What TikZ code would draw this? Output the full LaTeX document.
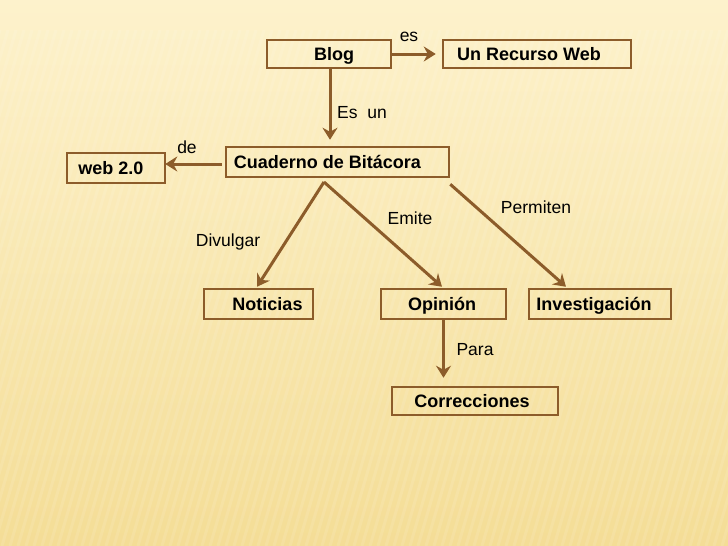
\documentclass[tikz,border=0pt]{standalone}
\usepackage{fontspec}
\setmainfont{Liberation Sans}
\usetikzlibrary{arrows.meta}
\definecolor{brownline}{RGB}{140,92,42}
\definecolor{bgtop}{RGB}{253,242,204}
\definecolor{bgbot}{RGB}{244,221,150}
\tikzset{
  box/.style={draw=brownline, line width=2.5pt, rectangle, inner sep=0pt,
    text height=12.9pt, text depth=0pt,
    font=\fontsize{18}{21}\selectfont\bfseries, text=black},
  lbl/.style={inner sep=0pt, font=\fontsize{17.5}{20}\selectfont, text=black},
  arr/.style={draw=brownline, line width=3pt,
    -{Stealth[length=12pt,width=15pt,inset=4pt]}},
  stripe/.style={draw=white, opacity=0.10, line width=3pt},
}
\begin{document}
\begin{tikzpicture}[x=1pt,y=-1pt]
\useasboundingbox (0,0) rectangle (728,546);
\fill[top color=bgtop, bottom color=bgbot] (0,0) rectangle (728,546);
\begin{scope}
\clip (0,30) rectangle (728,546);
\foreach \i in {0,8,...,900} {
  \draw[stripe] (\i-150,546) -- (\i,30);
}
\end{scope}

\node[box, minimum width=124pt, minimum height=28pt] (blog) at (329,54) {\hspace*{10pt}Blog};
\node[box, minimum width=188pt, minimum height=28pt] (rec) at (537,54) {Un Recurso Web\hspace*{16pt}};
\node[box, minimum width=223pt, minimum height=30pt] (cua) at (337.5,162) {Cuaderno de Bitácora\hspace*{20pt}};
\node[box, minimum width=98pt, minimum height=30pt] (web) at (116,168) {web 2.0\hspace*{10pt}};
\node[box, minimum width=109pt, minimum height=30pt] (not) at (258.5,304) {\hspace*{18pt}Noticias};
\node[box, minimum width=125pt, minimum height=30pt] (opi) at (443.5,304) {Opinión\hspace*{3pt}};
\node[box, minimum width=142pt, minimum height=30pt] (inv) at (600,304) {Investigación\hspace*{12pt}};
\node[box, minimum width=166pt, minimum height=28pt] (cor) at (475,401) {Correcciones\hspace*{6pt}};

\coordinate (apex) at (324,182);

\draw[arr, shorten >=6pt] (blog.east) -- (rec.west);
\draw[arr] ([xshift=1pt]blog.south) -- ([xshift=1pt,yshift=6pt]blog.south |- cua.north);
\draw[arr] ([xshift=-3pt,yshift=-2pt]cua.west) -- ([xshift=-1pt,yshift=-2pt]cua.west -| web.east);
\draw[arr] (apex) -- ([xshift=-1.5pt,yshift=1pt]not.north);
\draw[arr] (apex) -- ([xshift=-1.5pt,yshift=1pt]opi.north);
\draw[arr] ([yshift=-6pt]cua.south east) -- ([xshift=-34pt,yshift=1pt]inv.north);
\draw[arr] (opi.south) -- ([yshift=8pt]opi.south |- cor.north);

\node[lbl] (les) at (409,37) {es};
\node[lbl] (lesun) at (362,113) {Es\ \ un};
\node[lbl] (lde) at (187,147) {de};
\node[lbl] (ldiv) at (228,242) {Divulgar};
\node[lbl] (lemi) at (410,218) {Emite};
\node[lbl] (lper) at (536,207) {Permiten};
\node[lbl] (lpara) at (475,350) {Para};
\end{tikzpicture}
\end{document}
